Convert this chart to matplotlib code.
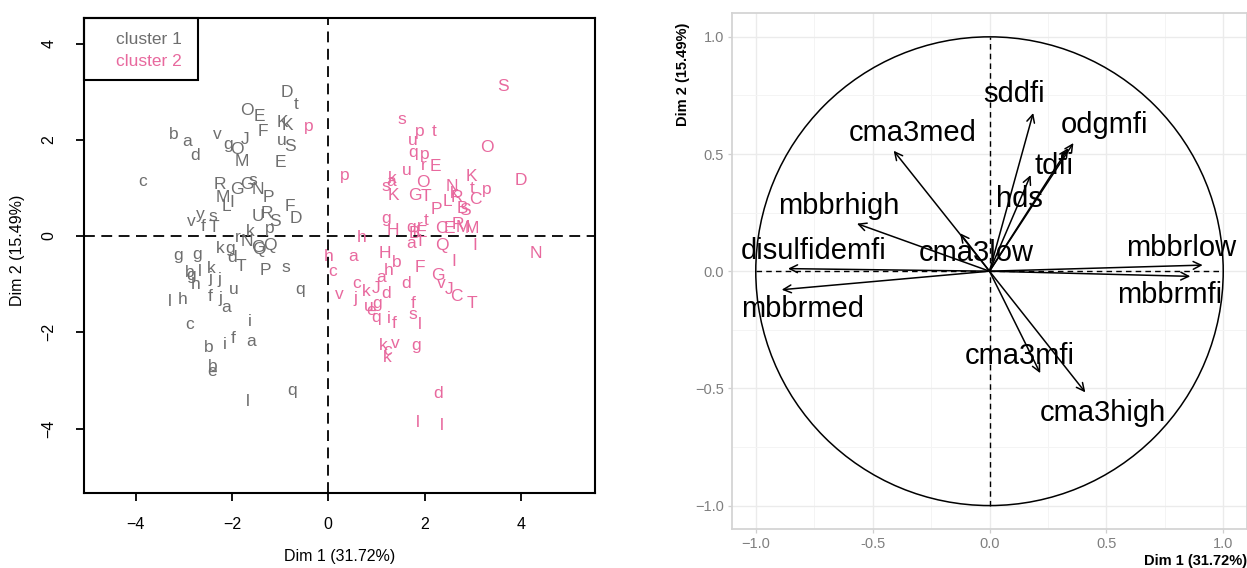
import matplotlib
matplotlib.use("Agg")
import matplotlib.pyplot as plt
import numpy as np
from matplotlib.patches import Rectangle, Circle

plt.rcParams['font.family'] = ['Liberation Sans', 'DejaVu Sans']

# ---------------- data: individuals (left panel) ----------------
c1_labels = ['D','t','O','E','K','K','F','b','a','d','v','g','O','J','u','S','M','E','c','R',
             'G','G','s','N','P','M','L','I','F','D','U','R','S','p','v','y','s','f','T','r',
             'k','N','G','Q','Q','k','g','d','T','P','s','g','g','b','g','l','k','j','j','h',
             'u','q','l','h','f','j','a','c','i','b','i','f','a','b','e','q','l']
c1_x = [-0.86,-0.66,-1.69,-1.42,-0.95,-0.85,-1.35,-3.21,-2.93,-2.77,-2.30,-2.07,-1.89,-1.73,-0.97,-0.79,-1.80,-1.00,-3.85,-2.25,
        -1.90,-1.69,-1.57,-1.45,-1.25,-2.18,-2.11,-2.00,-0.80,-0.68,-1.45,-1.28,-1.11,-1.21,-2.85,-2.66,-2.40,-2.59,-2.38,-1.87,
        -1.62,-1.69,-1.47,-1.21,-1.43,-2.25,-2.04,-2.00,-1.82,-1.31,-0.88,-3.11,-2.72,-2.87,-2.85,-2.66,-2.42,-2.44,-2.25,-2.76,
        -1.97,-0.59,-3.29,-3.02,-2.45,-2.23,-2.11,-2.87,-1.62,-2.47,-2.14,-1.98,-1.59,-2.40,-2.42,-0.74,-1.66]
c1_y = [2.98,2.74,2.60,2.48,2.35,2.30,2.17,2.10,1.96,1.68,2.10,1.91,1.79,2.00,1.98,1.87,1.55,1.52,1.13,1.08,
        0.97,1.06,1.15,0.96,0.80,0.80,0.61,0.69,0.62,0.36,0.40,0.47,0.30,0.16,0.31,0.44,0.40,0.19,0.17,-0.03,
        0.09,-0.12,-0.24,-0.19,-0.29,-0.26,-0.26,-0.44,-0.63,-0.72,-0.66,-0.41,-0.38,-0.76,-0.82,-0.74,-0.67,-0.88,-0.91,-1.01,
        -1.12,-1.12,-1.37,-1.32,-1.26,-1.30,-1.48,-1.83,-1.78,-2.31,-2.25,-2.13,-2.20,-2.72,-2.82,-3.20,-3.44]

c2_labels = ['p','S','s','p','t','u','O','q','p','r','E','p','k','a','u','s','K','O','G','T',
             'N','K','D','t','p','R','C','P','L','k','S','B','g','H','h','q','r','t','E','B',
             'a','I','C','E','R','M','M','Q','I','N','H','b','h','a','F','I','G','v','J','C',
             'T','d','d','J','c','k','j','v','h','c','a','u','g','e','q','i','f','f','s','l',
             'k','v','c','k','g','d','l','l']
c2_x = [-0.41,3.63,1.52,1.90,2.19,1.75,3.29,1.77,2.01,1.98,2.23,0.35,1.32,1.30,1.63,1.20,1.36,1.97,1.81,2.04,
        2.56,2.98,4.01,2.98,3.30,2.68,3.06,2.25,2.48,2.62,2.84,2.78,1.21,1.35,0.69,1.73,1.90,2.04,1.94,1.80,
        1.73,1.90,2.35,2.52,2.70,2.98,2.80,2.37,3.04,4.32,1.18,1.43,1.26,1.09,1.90,2.60,2.27,2.34,2.52,2.66,
        2.98,1.61,1.21,1.00,0.59,0.80,0.57,0.23,0.00,0.09,0.52,0.85,1.02,0.90,1.00,1.26,1.38,1.76,1.76,1.90,
        1.15,1.40,1.23,1.23,1.82,2.29,1.87,2.35]
c2_y = [2.27,3.10,2.43,2.17,2.17,1.98,1.84,1.73,1.70,1.46,1.44,1.25,1.20,1.14,1.37,1.02,0.84,1.12,0.85,0.82,
        1.02,1.23,1.16,0.99,0.97,0.80,0.75,0.56,0.72,0.88,0.52,0.58,0.37,0.12,-0.04,0.17,0.19,0.33,0.08,0.06,
        -0.15,-0.12,0.16,0.16,0.23,0.16,0.18,-0.19,-0.20,-0.36,-0.36,-0.55,-0.72,-0.86,-0.66,-0.52,-0.83,-0.98,-1.12,-1.26,
        -1.40,-0.98,-1.19,-1.09,-0.98,-1.16,-1.30,-1.22,-0.43,-0.74,-0.43,-1.46,-1.41,-1.55,-1.69,-1.71,-1.82,-1.40,-1.64,-1.83,
        -2.27,-2.23,-2.38,-2.52,-2.27,-3.27,-3.88,-3.93]

cluster_names = ['cluster 1', 'cluster 2']
dim1_label = 'Dim 1 (31.72%)'
dim2_label = 'Dim 2 (15.49%)'

# ---------------- data: variables (right panel) ----------------
var_names = ['sddfi','odgmfi','tdfi','hds','cma3med','cma3low','mbbrhigh','disulfidemfi',
             'mbbrmed','mbbrlow','mbbrmfi','cma3mfi','cma3high']
var_x = [0.187, 0.359, 0.176, 0.337, -0.410, -0.126, -0.567, -0.862, -0.889, 0.912, 0.859, 0.217, 0.410]
var_y = [0.675, 0.547, 0.410, 0.525, 0.514, 0.162, 0.203, 0.011, -0.079, 0.026, -0.022, -0.435, -0.517]
lab_x = [0.105, 0.49, 0.276, 0.13, -0.33, -0.058, -0.646, -0.752, -0.80, 0.82, 0.77, 0.13, 0.486]
lab_y = [0.755, 0.625, 0.447, 0.306, 0.59, 0.077, 0.277, 0.087, -0.161, 0.10, -0.10, -0.36, -0.605]

GRAY = '#6E6E6E'
PINK = '#E8699E'

W, H = 1247, 568
fig = plt.figure(figsize=(W/100, H/100), dpi=100)

def rect(l, t, r, b):
    return [l/W, 1 - b/H, (r-l)/W, (b-t)/H]

# ---------------- left panel ----------------
ax1 = fig.add_axes(rect(84, 18, 595, 493))
ax1.set_xlim(-5.07, 5.54)
ax1.set_ylim(-5.34, 4.53)
for s in ax1.spines.values():
    s.set_linewidth(1.5)
    s.set_color('black')
ax1.set_xticks([-4, -2, 0, 2, 4])
ax1.set_yticks([-4, -2, 0, 2, 4])
ax1.set_xticklabels(['\u22124', '\u22122', '0', '2', '4'])
ax1.set_yticklabels(['\u22124', '\u22122', '0', '2', '4'], rotation=90, va='center')
ax1.tick_params(axis='both', direction='out', length=6, width=1.3, labelsize=11.5, colors='black')
ax1.tick_params(axis='x', pad=11)
ax1.tick_params(axis='y', pad=14)
ax1.axhline(0, color='black', lw=1.3, linestyle=(0, (6, 3.6)), zorder=1)
ax1.axvline(0, color='black', lw=1.3, linestyle=(0, (6, 3.6)), zorder=1)

for lab, x, y in zip(c1_labels, c1_x, c1_y):
    ax1.text(x, y, lab, color=GRAY, fontsize=12.5, ha='center', va='center', zorder=3)
for lab, x, y in zip(c2_labels, c2_x, c2_y):
    ax1.text(x, y, lab, color=PINK, fontsize=12.5, ha='center', va='center', zorder=3)

# legend box
ax1.add_patch(Rectangle((0, 1), (198-84)/511, -(80-18)/475, transform=ax1.transAxes,
                        fill=False, edgecolor='black', lw=1.5, zorder=5, clip_on=False))
ax1.text((116-84)/511, (493-40)/475, cluster_names[0], transform=ax1.transAxes,
         color=GRAY, fontsize=12.5, ha='left', va='center')
ax1.text((116-84)/511, (493-62)/475, cluster_names[1], transform=ax1.transAxes,
         color=PINK, fontsize=12.5, ha='left', va='center')

fig.text(340/W, 1 - 557/H, dim1_label, ha='center', va='center', fontsize=11.5)
fig.text(18/W, 1 - 250/H, dim2_label, ha='center', va='center', fontsize=11.5, rotation=90)

# ---------------- right panel ----------------
ax2 = fig.add_axes(rect(732.4, 13.4, 1246.6, 529))
ax2.set_xlim(-1.1, 1.1)
ax2.set_ylim(-1.1, 1.1)
for s in ax2.spines.values():
    s.set_linewidth(1.3)
    s.set_color('#D4D4D4')
ax2.set_xticks([-1.0, -0.5, 0.0, 0.5, 1.0])
ax2.set_yticks([-1.0, -0.5, 0.0, 0.5, 1.0])
ax2.set_xticklabels(['\u22121.0', '-0.5', '0.0', '0.5', '1.0'])
ax2.set_yticklabels(['\u22121.0', '\u22120.5', '0.0', '0.5', '1.0'])
ax2.set_xticks([-0.75, -0.25, 0.25, 0.75], minor=True)
ax2.set_yticks([-0.75, -0.25, 0.25, 0.75], minor=True)
ax2.tick_params(which='major', length=3, width=0.9, color='#CFCFCF', labelcolor='#7F7F7F',
                labelsize=10.5, pad=3)
ax2.tick_params(which='minor', length=0)
ax2.grid(which='major', color='#EBEBEB', lw=1.0)
ax2.grid(which='minor', color='#F4F4F4', lw=0.7)
ax2.set_axisbelow(True)

ax2.add_patch(Circle((0, 0), 1.0, fill=False, edgecolor='black', lw=1.1, zorder=2))
ax2.plot([-1, 1], [0, 0], color='black', lw=1.0, linestyle=(0, (4, 3)), zorder=2)
ax2.plot([0, 0], [-1, 1], color='black', lw=1.0, linestyle=(0, (4, 3)), zorder=2)

for name, x, y, lx, ly in zip(var_names, var_x, var_y, lab_x, lab_y):
    ax2.annotate('', xy=(x, y), xytext=(0, 0),
                 arrowprops=dict(arrowstyle='->', color='black', lw=1.1,
                                 mutation_scale=14, shrinkA=0, shrinkB=0), zorder=3)
    ax2.text(lx, ly, name, fontsize=21, ha='center', va='center', color='black', zorder=4)

fig.text(1247/W, 1 - 561/H, dim1_label, ha='right', va='center', fontsize=10.5, fontweight='bold')
fig.text(683/W, 1 - 74/H, dim2_label, ha='center', va='center', fontsize=10.5,
         fontweight='bold', rotation=90)

fig.savefig('out.png', dpi=100)
